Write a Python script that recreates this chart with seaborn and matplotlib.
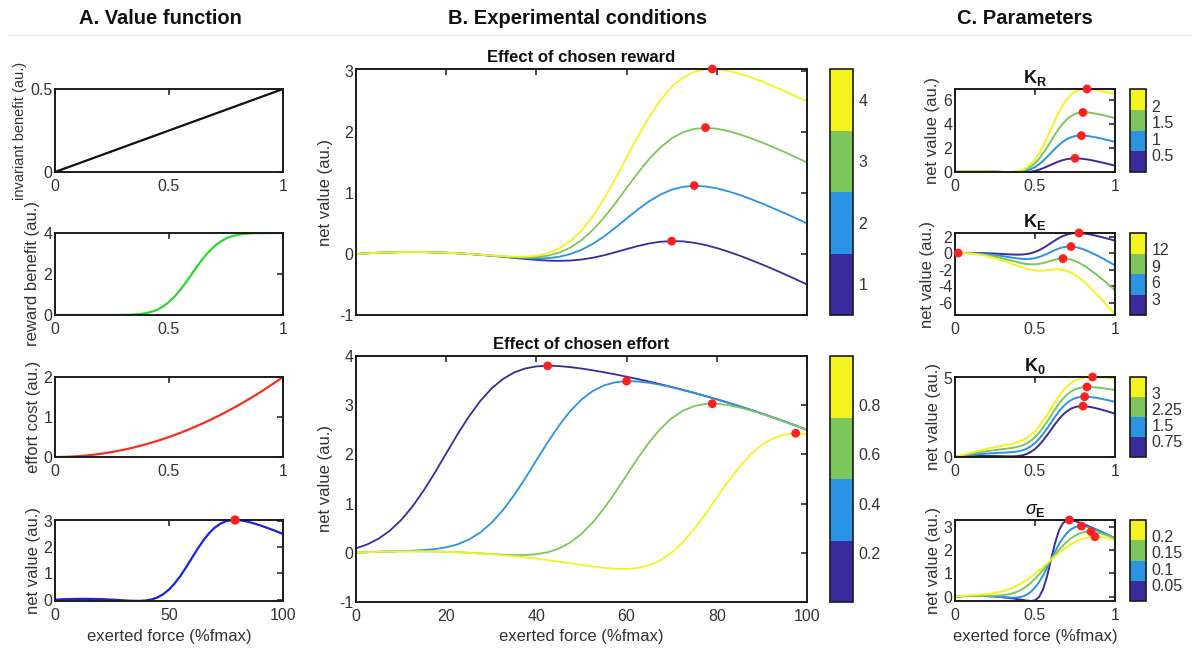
import numpy as np
import pandas as pd
import matplotlib
matplotlib.use("Agg")
import matplotlib.pyplot as plt
from matplotlib.colors import ListedColormap, BoundaryNorm
from matplotlib.cm import ScalarMappable
from matplotlib.lines import Line2D
import seaborn as sns

# ---------------------------------------------------------------- data
# exerted force, sampled every 2.5 % of fmax
force = np.linspace(0, 1, 41)

# A. value function components
invariant_x = [0.0, 1.0]
invariant_benefit = [0.0, 0.5]
reward_benefit = [0, 0, 0, 0, 0, 0, 0, 0, 0, 0, 0.001, 0.002, 0.005, 0.012, 0.025,
                  0.049, 0.091, 0.160, 0.267, 0.423, 0.635, 0.907, 1.234, 1.605, 2.0,
                  2.395, 2.766, 3.093, 3.365, 3.577, 3.733, 3.840, 3.909, 3.951, 3.975,
                  3.988, 3.995, 3.998, 3.999, 4.0, 4.0]
effort_cost = [0, 0.001, 0.005, 0.011, 0.02, 0.031, 0.045, 0.061, 0.08, 0.101, 0.125,
               0.151, 0.18, 0.211, 0.245, 0.281, 0.32, 0.361, 0.405, 0.451, 0.5, 0.551,
               0.605, 0.661, 0.72, 0.781, 0.845, 0.911, 0.98, 1.051, 1.125, 1.201, 1.28,
               1.361, 1.445, 1.531, 1.62, 1.711, 1.805, 1.901, 2.0]
net_value = [0, 0.011, 0.02, 0.026, 0.03, 0.031, 0.03, 0.026, 0.02, 0.011, 0.001,
             -0.012, -0.025, -0.037, -0.045, -0.045, -0.029, 0.011, 0.087, 0.209, 0.385,
             0.618, 0.904, 1.231, 1.58, 1.926, 2.246, 2.519, 2.735, 2.888, 2.983, 3.026,
             3.029, 3.002, 2.955, 2.894, 2.825, 2.749, 2.669, 2.586, 2.5]
net_peak = (79, 3.03)

# B. experimental conditions: chosen reward levels 1..4
reward_levels = [1, 2, 3, 4]
reward_r1 = [0, 0.011, 0.02, 0.026, 0.03, 0.031, 0.03, 0.026, 0.02, 0.011, 0, -0.013,
             -0.029, -0.046, -0.064, -0.082, -0.097, -0.109, -0.113, -0.108, -0.091,
             -0.062, -0.022, 0.028, 0.08, 0.13, 0.172, 0.2, 0.211, 0.206, 0.183, 0.146,
             0.097, 0.039, -0.026, -0.097, -0.171, -0.249, -0.33, -0.414, -0.5]
reward_r2 = [0, 0.011, 0.02, 0.026, 0.03, 0.031, 0.03, 0.026, 0.02, 0.011, 0, -0.013,
             -0.028, -0.043, -0.058, -0.069, -0.075, -0.069, -0.047, -0.002, 0.068,
             0.165, 0.287, 0.429, 0.58, 0.729, 0.863, 0.973, 1.053, 1.1, 1.117, 1.106,
             1.075, 1.027, 0.968, 0.9, 0.828, 0.75, 0.67, 0.586, 0.5]
reward_r3 = [0, 0.011, 0.02, 0.026, 0.03, 0.031, 0.03, 0.026, 0.02, 0.011, 0, -0.012,
             -0.026, -0.04, -0.051, -0.057, -0.052, -0.029, 0.02, 0.104, 0.226, 0.392,
             0.596, 0.83, 1.08, 1.328, 1.555, 1.746, 1.894, 1.994, 2.05, 2.066, 2.052,
             2.014, 1.961, 1.897, 1.826, 1.75, 1.67, 1.586, 1.5]
reward_r4 = [0, 0.011, 0.02, 0.026, 0.03, 0.031, 0.03, 0.026, 0.02, 0.011, 0.001,
             -0.012, -0.025, -0.037, -0.045, -0.045, -0.029, 0.011, 0.087, 0.209, 0.385,
             0.618, 0.904, 1.231, 1.58, 1.926, 2.246, 2.519, 2.735, 2.888, 2.983, 3.026,
             3.029, 3.002, 2.955, 2.894, 2.825, 2.749, 2.669, 2.586, 2.5]
reward_peak_x = [70, 75, 77.5, 79]
reward_peak_y = [0.21, 1.12, 2.07, 3.03]

# B. chosen effort levels 0.2..0.8
effort_levels = [0.2, 0.4, 0.6, 0.8]
effort_e02 = [0.091, 0.171, 0.287, 0.449, 0.665, 0.938, 1.264, 1.631, 2.02, 2.406,
              2.766, 3.079, 3.335, 3.528, 3.663, 3.746, 3.789, 3.802, 3.795, 3.774,
              3.745, 3.709, 3.669, 3.626, 3.58, 3.531, 3.48, 3.426, 3.37, 3.311, 3.25,
              3.186, 3.12, 3.051, 2.98, 2.906, 2.83, 2.751, 2.67, 2.586, 2.5]
effort_e04 = [0, 0.011, 0.021, 0.028, 0.035, 0.043, 0.055, 0.075, 0.111, 0.171, 0.267,
              0.409, 0.605, 0.858, 1.164, 1.511, 1.88, 2.246, 2.586, 2.879, 3.115,
              3.288, 3.403, 3.466, 3.489, 3.482, 3.455, 3.414, 3.365, 3.309, 3.249,
              3.186, 3.12, 3.051, 2.98, 2.906, 2.83, 2.751, 2.67, 2.586, 2.5]
effort_e06 = [0, 0.011, 0.02, 0.026, 0.03, 0.031, 0.03, 0.026, 0.02, 0.011, 0.001,
              -0.012, -0.025, -0.037, -0.045, -0.045, -0.029, 0.011, 0.087, 0.209,
              0.385, 0.618, 0.904, 1.231, 1.58, 1.926, 2.246, 2.519, 2.735, 2.888,
              2.983, 3.026, 3.029, 3.002, 2.955, 2.894, 2.825, 2.749, 2.669, 2.586, 2.5]
effort_e08 = [0, 0.011, 0.02, 0.026, 0.03, 0.031, 0.03, 0.026, 0.02, 0.011, 0, -0.014,
              -0.03, -0.049, -0.07, -0.094, -0.12, -0.149, -0.179, -0.212, -0.245,
              -0.277, -0.305, -0.325, -0.329, -0.309, -0.253, -0.151, 0.005, 0.218,
              0.484, 0.791, 1.12, 1.446, 1.746, 1.999, 2.195, 2.328, 2.403, 2.426, 2.409]
effort_peak_x = [42.5, 60, 79, 97.5]
effort_peak_y = [3.80, 3.49, 3.03, 2.43]

# C. parameters: K_R
kr_levels = [0.5, 1, 1.5, 2]
kr_05 = reward_r2
kr_10 = reward_r4
kr_15 = [0, 0.011, 0.02, 0.026, 0.03, 0.031, 0.03, 0.026, 0.02, 0.011, 0.002, -0.011,
         -0.023, -0.031, -0.033, -0.02, 0.017, 0.091, 0.221, 0.421, 0.703, 1.072,
         1.521, 2.034, 2.58, 3.124, 3.629, 4.066, 4.418, 4.677, 4.85, 4.946, 4.984,
         4.978, 4.943, 4.888, 4.823, 4.748, 4.669, 4.586, 4.5]
kr_20 = [0, 0.011, 0.02, 0.026, 0.03, 0.031, 0.03, 0.026, 0.02, 0.011, 0.002, -0.01,
         -0.02, -0.025, -0.02, 0.004, 0.062, 0.171, 0.354, 0.632, 1.02, 1.525, 2.138,
         2.836, 3.58, 4.321, 5.012, 5.612, 6.1, 6.465, 6.716, 6.866, 6.938, 6.953,
         6.93, 6.882, 6.82, 6.747, 6.668, 6.586, 6.5]
kr_peak_x = [0.75, 0.79, 0.80, 0.825]
kr_peak_y = [1.12, 3.03, 4.98, 6.95]

# C. parameters: K_E
ke_levels = [3, 6, 9, 12]
ke_3 = [0, 0.011, 0.018, 0.021, 0.02, 0.016, 0.008, -0.004, -0.02, -0.039, -0.062,
        -0.087, -0.115, -0.143, -0.168, -0.185, -0.189, -0.169, -0.116, -0.016, 0.135,
        0.343, 0.602, 0.901, 1.22, 1.536, 1.824, 2.064, 2.245, 2.363, 2.421, 2.426,
        2.389, 2.322, 2.233, 2.129, 2.015, 1.894, 1.767, 1.636, 1.5]
ke_6 = [0, 0.009, 0.01, 0.004, -0.01, -0.031, -0.06, -0.096, -0.14, -0.191, -0.249,
        -0.314, -0.385, -0.46, -0.535, -0.607, -0.669, -0.711, -0.723, -0.693, -0.615,
        -0.484, -0.306, -0.091, 0.14, 0.364, 0.556, 0.697, 0.775, 0.786, 0.733, 0.624,
        0.469, 0.28, 0.065, -0.168, -0.415, -0.673, -0.941, -1.216, -1.5]
ke_9 = [0, 0.007, 0.003, -0.013, -0.04, -0.078, -0.128, -0.188, -0.26, -0.343, -0.437,
        -0.541, -0.655, -0.777, -0.903, -1.029, -1.149, -1.253, -1.331, -1.37, -1.365,
        -1.311, -1.214, -1.083, -0.94, -0.808, -0.712, -0.67, -0.695, -0.791, -0.955,
        -1.178, -1.451, -1.762, -2.103, -2.465, -2.845, -3.24, -3.649, -4.068, -4.5]
ke_12 = [0, 0.005, -0.005, -0.03, -0.07, -0.125, -0.195, -0.28, -0.38, -0.495, -0.624,
         -0.768, -0.925, -1.094, -1.27, -1.451, -1.629, -1.795, -1.938, -2.047, -2.115,
         -2.138, -2.121, -2.075, -2.02, -1.98, -1.979, -2.037, -2.165, -2.368, -2.642,
         -2.98, -3.371, -3.804, -4.27, -4.762, -5.275, -5.807, -6.356, -6.92, -7.5]
ke_peak_x = [0.775, 0.725, 0.675, 0.02]
ke_peak_y = [2.43, 0.79, -0.67, 0.0]

# C. parameters: K_0
k0_levels = [0.75, 1.5, 2.25, 3]
k0_075 = [0, 0.017, 0.033, 0.045, 0.055, 0.062, 0.068, 0.07, 0.07, 0.067, 0.064,
          0.057, 0.05, 0.044, 0.043, 0.049, 0.071, 0.117, 0.2, 0.328, 0.51, 0.749,
          1.042, 1.375, 1.73, 2.082, 2.409, 2.688, 2.91, 3.069, 3.171, 3.22, 3.229,
          3.208, 3.168, 3.113, 3.05, 2.98, 2.907, 2.83, 2.75]
k0_150 = [0, 0.036, 0.07, 0.101, 0.13, 0.156, 0.18, 0.201, 0.22, 0.236, 0.251, 0.263,
          0.275, 0.288, 0.305, 0.33, 0.371, 0.436, 0.537, 0.684, 0.885, 1.143, 1.454,
          1.806, 2.18, 2.551, 2.896, 3.194, 3.435, 3.613, 3.733, 3.801, 3.829, 3.827,
          3.805, 3.769, 3.725, 3.674, 3.619, 3.561, 3.5]
k0_225 = [0, 0.055, 0.108, 0.157, 0.205, 0.25, 0.293, 0.332, 0.37, 0.405, 0.439, 0.469,
          0.5, 0.532, 0.568, 0.611, 0.671, 0.755, 0.875, 1.04, 1.26, 1.537, 1.867,
          2.237, 2.63, 3.02, 3.384, 3.7, 3.96, 4.157, 4.296, 4.382, 4.429, 4.446, 4.443,
          4.425, 4.4, 4.368, 4.332, 4.292, 4.25]
k0_300 = [0, 0.074, 0.145, 0.214, 0.28, 0.344, 0.405, 0.464, 0.52, 0.574, 0.626, 0.676,
          0.725, 0.776, 0.83, 0.893, 0.971, 1.074, 1.212, 1.397, 1.635, 1.93, 2.279,
          2.669, 3.08, 3.489, 3.871, 4.207, 4.485, 4.701, 4.858, 4.963, 5.029, 5.065,
          5.08, 5.081, 5.075, 5.062, 5.044, 5.024, 5.0]
k0_peak_x = [0.80, 0.81, 0.825, 0.86]
k0_peak_y = [3.23, 3.83, 4.45, 5.08]

# C. parameters: sigma_E
sigma_levels = [0.05, 0.1, 0.15, 0.2]
sigma_005 = [0, 0.011, 0.02, 0.026, 0.03, 0.031, 0.03, 0.026, 0.02, 0.011, 0, -0.014,
             -0.03, -0.049, -0.07, -0.094, -0.12, -0.148, -0.175, -0.189, -0.159,
             -0.022, 0.305, 0.86, 1.58, 2.297, 2.845, 3.159, 3.279, 3.286, 3.245, 3.185,
             3.12, 3.051, 2.98, 2.906, 2.83, 2.751, 2.67, 2.586, 2.5]
sigma_010 = reward_r4
sigma_015 = [0, 0.012, 0.021, 0.027, 0.032, 0.034, 0.035, 0.035, 0.035, 0.036, 0.039,
             0.047, 0.061, 0.085, 0.121, 0.173, 0.245, 0.338, 0.455, 0.595, 0.76, 0.945,
             1.148, 1.361, 1.58, 1.796, 2.002, 2.192, 2.36, 2.502, 2.615, 2.699, 2.755,
             2.784, 2.789, 2.772, 2.739, 2.69, 2.631, 2.561, 2.485]
sigma_020 = [0.005, 0.019, 0.032, 0.043, 0.055, 0.066, 0.079, 0.093, 0.111, 0.133, 0.16,
             0.194, 0.237, 0.289, 0.353, 0.427, 0.515, 0.614, 0.727, 0.85, 0.984, 1.126,
             1.275, 1.427, 1.58, 1.73, 1.875, 2.011, 2.136, 2.247, 2.343, 2.423, 2.485,
             2.53, 2.557, 2.568, 2.563, 2.543, 2.51, 2.464, 2.409]
sigma_peak_x = [0.715, 0.79, 0.85, 0.875]
sigma_peak_y = [3.29, 3.03, 2.79, 2.57]

# ---------------------------------------------------------------- style
sns.set_theme(style="white")
plt.rcParams["font.family"] = ["Liberation Sans", "DejaVu Sans"]
plt.rcParams.update({
    "mathtext.fontset": "custom",
    "mathtext.rm": "Liberation Sans",
    "mathtext.it": "Liberation Sans:italic",
    "mathtext.bf": "Liberation Sans:bold",
})

PARULA4 = ["#3a2c9e", "#2b93e3", "#7dc65c", "#f5f31f"]
EDGE = "#1a1a1a"
TXT = "#333333"
DOT = "#ff2020"
TICK_FS = 11.5
LABEL_FS = 12
XLABEL = "exerted force (%fmax)"
YLABEL_NET = "net value (au.)"

W, H = 1200, 649
fig = plt.figure(figsize=(W / 100, H / 100), dpi=100)
fig.patch.set_facecolor("white")


def box(left, top, right, bottom):
    return [left / W, 1 - bottom / H, (right - left) / W, (bottom - top) / H]


def style(ax, xlim, ylim, xticks, xticklabels, yticks, yticklabels):
    ax.set_xlim(*xlim)
    ax.set_ylim(*ylim)
    ax.set_xticks(xticks)
    ax.set_xticklabels(xticklabels)
    ax.set_yticks(yticks)
    ax.set_yticklabels(yticklabels)
    ax.grid(False)
    ax.set_facecolor("white")
    ax.tick_params(direction="in", top=True, right=True, length=4, width=1.1,
                   color=EDGE, labelsize=TICK_FS, labelcolor=TXT, pad=2)
    ax.tick_params(axis="x", pad=5)
    for sp in ax.spines.values():
        sp.set_visible(True)
        sp.set_color(EDGE)
        sp.set_linewidth(1.4)
    ax.set_xlabel("")
    ax.set_ylabel("")


def curve(ax, x, y, color, lw):
    sns.lineplot(x=np.asarray(x), y=np.asarray(y), ax=ax, color=color, linewidth=lw,
                 estimator=None, sort=False, legend=False)


def dots(ax, xs, ys, size):
    sns.scatterplot(x=np.asarray(xs, dtype=float), y=np.asarray(ys, dtype=float), ax=ax,
                    color=DOT, s=size, edgecolor="none", linewidth=0, zorder=10,
                    clip_on=False, legend=False)


def colorbar(cax, bounds, ticks, ticklabels):
    cmap = ListedColormap(PARULA4)
    norm = BoundaryNorm(bounds, cmap.N)
    sm = ScalarMappable(norm=norm, cmap=cmap)
    cb = fig.colorbar(sm, cax=cax, ticks=ticks)
    cb.set_ticklabels(ticklabels)
    cb.outline.set_edgecolor(EDGE)
    cb.outline.set_linewidth(1.2)
    cb.ax.yaxis.set_tick_params(which="both", direction="in", length=3, width=1,
                                color=EDGE, labelsize=TICK_FS, labelcolor=TXT, pad=4)
    cb.ax.minorticks_off()
    return cb


# column headings
for xc, txt in [(160, "A. Value function"), (578, "B. Experimental conditions"),
                (1025, "C. Parameters")]:
    fig.text(xc / W, 1 - 18 / H, txt, ha="center", va="center", fontsize=14.5,
             fontweight="bold", color="#111111")
fig.add_artist(Line2D([8 / W, 1192 / W], [1 - 35 / H, 1 - 35 / H],
                      color="#eeeeee", lw=1))

# ---------------------------------------------------------------- column A
rows = [(89, 172), (233, 315), (377, 457), (520, 601)]

ax = fig.add_axes(box(55, rows[0][0], 283, rows[0][1]))
curve(ax, invariant_x, invariant_benefit, "#111111", 1.6)
style(ax, (0, 1), (0, 0.5), [0, 0.5, 1], ["0", "0.5", "1"], [0, 0.5], ["0", "0.5"])
ax.set_ylabel("invariant benefit (au.)", fontsize=10.5, color=TXT, labelpad=2)

ax = fig.add_axes(box(55, rows[1][0], 283, rows[1][1]))
curve(ax, force, reward_benefit, "#2ed82e", 1.6)
style(ax, (0, 1), (0, 4), [0, 0.5, 1], ["0", "0.5", "1"], [0, 2, 4], ["0", "2", "4"])
ax.set_ylabel("reward benefit (au.)", fontsize=LABEL_FS, color=TXT, labelpad=2)

ax = fig.add_axes(box(55, rows[2][0], 283, rows[2][1]))
curve(ax, force, effort_cost, "#f2321e", 1.6)
style(ax, (0, 1), (0, 2), [0, 0.5, 1], ["0", "0.5", "1"], [0, 1, 2], ["0", "1", "2"])
ax.set_ylabel("effort cost (au.)", fontsize=LABEL_FS, color=TXT, labelpad=2)

ax = fig.add_axes(box(55, rows[3][0], 283, rows[3][1]))
curve(ax, force * 100, net_value, "#1f1fe8", 1.6)
dots(ax, [net_peak[0]], [net_peak[1]], 45)
style(ax, (0, 100), (-0.05, 3.03), [0, 50, 100], ["0", "50", "100"],
      [0, 1, 2, 3], ["0", "1", "2", "3"])
ax.set_ylabel(YLABEL_NET, fontsize=LABEL_FS, color=TXT, labelpad=2)
ax.set_xlabel(XLABEL, fontsize=LABEL_FS, color=TXT, labelpad=4)

# ---------------------------------------------------------------- column B
b_ticks = [0, 20, 40, 60, 80, 100]

ax = fig.add_axes(box(356, 69, 807, 315))
for y, c in zip([reward_r1, reward_r2, reward_r3, reward_r4], PARULA4):
    curve(ax, force * 100, y, c, 1.3)
dots(ax, reward_peak_x, reward_peak_y, 40)
style(ax, (0, 100), (-1, 3.03), b_ticks, [""] * 6,
      [-1, 0, 1, 2, 3], ["-1", "0", "1", "2", "3"])
ax.set_ylabel(YLABEL_NET, fontsize=LABEL_FS, color=TXT, labelpad=4)
ax.set_title("Effect of chosen reward", fontsize=12, fontweight="bold",
             color="#111111", pad=5)
colorbar(fig.add_axes(box(830, 69, 853, 315)), [0.5, 1.5, 2.5, 3.5, 4.5],
         reward_levels, [str(v) for v in reward_levels])

ax = fig.add_axes(box(356, 356, 807, 602))
for y, c in zip([effort_e02, effort_e04, effort_e06, effort_e08], PARULA4):
    curve(ax, force * 100, y, c, 1.3)
dots(ax, effort_peak_x, effort_peak_y, 40)
style(ax, (0, 100), (-1, 4), b_ticks, [str(t) for t in b_ticks],
      [-1, 0, 1, 2, 3, 4], ["-1", "0", "1", "2", "3", "4"])
ax.set_ylabel(YLABEL_NET, fontsize=LABEL_FS, color=TXT, labelpad=4)
ax.set_xlabel(XLABEL, fontsize=LABEL_FS, color=TXT, labelpad=4)
ax.set_title("Effect of chosen effort", fontsize=12, fontweight="bold",
             color="#111111", pad=5)
colorbar(fig.add_axes(box(830, 356, 853, 602)), [0, 0.25, 0.5, 0.75, 1.0],
         effort_levels, [str(v) for v in effort_levels])

# ---------------------------------------------------------------- column C
c_panels = [
    (r"$\mathbf{K_R}$", [kr_05, kr_10, kr_15, kr_20], kr_peak_x, kr_peak_y,
     (-0.03, 6.95), [0, 2, 4, 6], kr_levels, ["0.5", "1", "1.5", "2"], 2.5),
    (r"$\mathbf{K_E}$", [ke_3, ke_6, ke_9, ke_12], ke_peak_x, ke_peak_y,
     (-7.5, 2.43), [-6, -4, -2, 0, 2], ke_levels, ["3", "6", "9", "12"], 15),
    (r"$\mathbf{K_0}$", [k0_075, k0_150, k0_225, k0_300], k0_peak_x, k0_peak_y,
     (0, 5.08), [0, 5], k0_levels, ["0.75", "1.5", "2.25", "3"], 3.75),
    (r"$\sigma_{\mathbf{E}}$", [sigma_005, sigma_010, sigma_015, sigma_020],
     sigma_peak_x, sigma_peak_y, (-0.19, 3.29), [0, 1, 2, 3], sigma_levels,
     ["0.05", "0.1", "0.15", "0.2"], 0.25),
]

for (top, bottom), (title, series, px, py, ylim, yticks, levels, lvl_labels, cmax) in zip(rows, c_panels):
    ax = fig.add_axes(box(955, top, 1115, bottom))
    for y, c in zip(series, PARULA4):
        curve(ax, force, y, c, 1.4)
    dots(ax, px, py, 40)
    style(ax, (0, 1), ylim, [0, 0.5, 1], ["0", "0.5", "1"],
          yticks, [str(t) for t in yticks])
    ax.set_ylabel(YLABEL_NET, fontsize=LABEL_FS, color=TXT, labelpad=2)
    ax.set_title(title, fontsize=13, color="#111111", pad=4)
    colorbar(fig.add_axes(box(1130, top, 1146, bottom)),
             [cmax * k / 4 for k in range(5)], levels, lvl_labels)

ax.set_xlabel(XLABEL, fontsize=LABEL_FS, color=TXT, labelpad=4)

fig.savefig("out.png", dpi=100, facecolor="white")
